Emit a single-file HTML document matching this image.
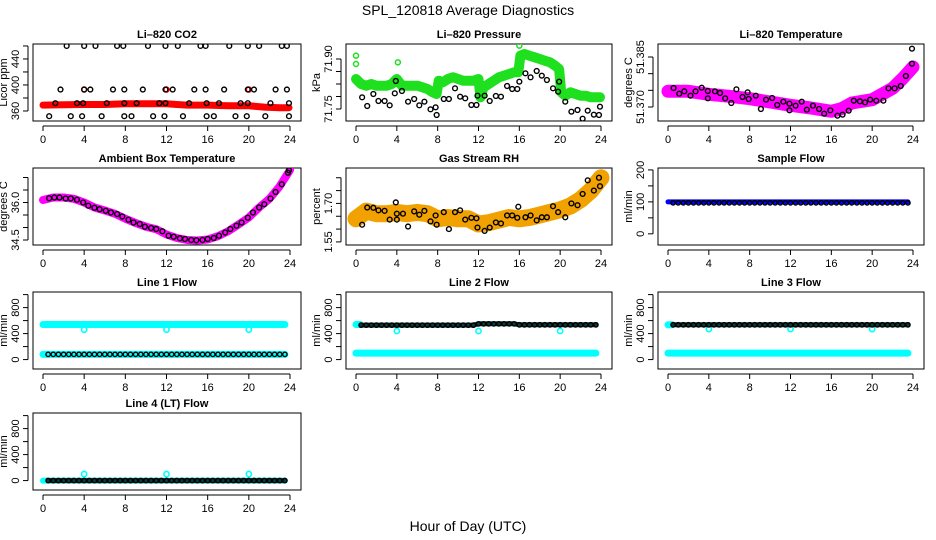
<!DOCTYPE html>
<html><head><meta charset="utf-8"><style>
html,body{margin:0;padding:0;background:#fff;}
svg{display:block;font-family:"Liberation Sans",sans-serif;}
</style></head><body>
<svg id="c" width="936" height="540" viewBox="0 0 936 540">
<text x="468" y="15" text-anchor="middle" font-size="14">SPL_120818  Average Diagnostics</text>
<text x="468" y="531" text-anchor="middle" font-size="14">Hour of Day (UTC)</text>
</svg>
<script>
// ---- CO2 ----
const co2RedT=[0,2,4,6,8,10,12,13,14,16,18,20,21.5,23,23.9];
const co2RedV=[369,369.5,370,370,371,371,371,370,369,369,368,368,366,365,365];
const co2BlkT=[2.3,4.0,5.1,7.2,7.8,10.2,11.9,13.1,15.3,15.8,18.1,19.9,21.0,23.2,23.7,
 1.7,4.0,4.6,6.8,7.9,9.7,11.9,12.6,14.7,15.8,17.6,19.9,20.5,22.6,23.7,
 1.2,3.3,3.9,6.2,7.9,9.1,11.3,11.9,14.2,15.9,17.1,19.2,19.9,22.1,23.9,
 0.6,2.7,3.8,5.7,7.9,8.6,10.7,11.8,13.6,15.9,16.6,18.7,19.8,21.6,23.9];
const co2BlkV=[460,460,460,460,460,460,460,460,460,460,460,460,460,460,460,
 393,393,393,393,393,393,393,393,393,393,393,393,393,393,393,
 372,372,372,372,372,372,372,372,372,372,372,372,372,372,372,
 352,352,352,352,352,352,352,352,352,352,352,352,352,352,352];
const co2RedPtT=[4.0,12.0,20.0];
const co2RedPtV=[393,393,393];
// ---- Pressure ----
const prGreenT=[0,0.5,1,1.5,2,2.5,3,3.5,4,4.5,5,5.5,6,6.5,7,7.5,7.9,8.1,8.5,9,9.5,10,10.5,11,11.5,12,12.2,12.5,13,13.5,14,14.5,15,15.5,15.9,16.1,16.5,17,17.5,18,18.5,19,19.5,19.9,20.1,20.5,21,21.5,22,22.5,23,23.5,23.9];
const prGreenV=[71.84,71.825,71.82,71.825,71.82,71.82,71.82,71.825,71.84,71.82,71.82,71.82,71.82,71.815,71.81,71.80,71.795,71.835,71.83,71.84,71.845,71.84,71.835,71.835,71.835,71.84,71.785,71.815,71.825,71.835,71.845,71.85,71.855,71.86,71.86,71.91,71.915,71.91,71.905,71.90,71.895,71.89,71.88,71.87,71.80,71.79,71.80,71.795,71.79,71.79,71.785,71.785,71.785];
const prBlkT=[0.6,1.1,1.7,2.2,2.8,3.3,3.8,3.9,4.5,5.1,5.7,6.2,6.7,7.3,7.8,7.9,8.6,9.1,9.7,10.2,10.7,11.3,11.8,11.9,12.6,13.1,13.7,14.2,14.8,15.3,15.8,16.0,16.6,17.1,17.7,18.2,18.7,19.3,19.8,19.9,20.5,21.1,21.7,22.2,22.7,23.3,23.8,23.9];
const prBlkV=[71.785,71.759,71.795,71.774,71.774,71.761,71.797,71.834,71.804,71.772,71.78,71.761,71.772,71.749,71.755,71.732,71.78,71.78,71.812,71.787,71.782,71.762,71.762,71.79,71.79,71.774,71.789,71.787,71.819,71.81,71.81,71.832,71.857,71.845,71.864,71.85,71.837,71.812,71.802,71.832,71.772,71.742,71.747,71.721,71.745,71.733,71.732,71.757];
// ---- Li-820 Temperature ----
const ltMagT=[0,2,4,6,8,10,12,14,16,17,18,20,22,23,24];
const ltMagV=[51.3747,51.3747,51.3738,51.3732,51.3725,51.3715,51.3705,51.3697,51.3687,51.3695,51.3712,51.3722,51.3756,51.3786,51.382];
const ltBlkT=[0.55,1.1,1.6,2.2,2.7,3.3,3.9,3.9,4.6,5.1,5.6,6.2,6.7,7.3,7.8,7.9,8.6,9.1,9.6,10.2,10.7,11.3,11.9,11.9,12.5,13.1,13.6,14.2,14.8,15.3,15.9,16.6,17.1,17.7,18.2,18.8,19.3,19.8,20.4,21.1,21.6,22.2,22.8,23.3,23.9,23.9];
const ltBlkV=[51.3757,51.374,51.3747,51.3734,51.3747,51.3758,51.3748,51.3726,51.3747,51.3742,51.3726,51.3712,51.3753,51.373,51.3744,51.3724,51.3734,51.3694,51.3722,51.3727,51.3706,51.3716,51.371,51.369,51.3704,51.3716,51.3692,51.3704,51.3694,51.368,51.369,51.3674,51.3677,51.3689,51.3719,51.3717,51.3714,51.3722,51.3719,51.3719,51.3756,51.3756,51.3763,51.3793,51.383,51.3875];
// ---- Ambient Box Temperature ----
const abMagT=[0,1,2,3,4,5,6,7,8,9,10,11,12,13,14,15,16,17,18,19,20,21,22,23,24];
const abMagV=[36.1,36.2,36.2,36.15,36.0,35.8,35.68,35.55,35.35,35.18,35.03,34.93,34.72,34.58,34.5,34.48,34.52,34.65,34.85,35.12,35.4,35.8,36.15,36.65,37.3];
const abBlkT=[0.6,1.1,1.6,2.2,2.7,3.3,3.9,4.4,5.0,5.5,6.1,6.6,7.2,7.7,8.3,8.8,9.4,9.9,10.5,11.0,11.6,12.2,12.7,13.3,13.8,14.4,14.9,15.5,16.0,16.6,17.1,17.7,18.2,18.8,19.3,19.9,20.4,21.0,21.5,22.1,22.6,23.2,23.8,23.9];
const abBlkV=[36.17,36.2,36.2,36.16,36.16,36.11,36.0,35.87,35.79,35.73,35.67,35.6,35.54,35.44,35.31,35.2,35.14,35.03,34.98,34.94,34.85,34.67,34.63,34.57,34.54,34.5,34.49,34.5,34.54,34.58,34.67,34.8,34.94,35.07,35.2,35.39,35.6,35.8,35.93,36.16,36.42,36.73,37.19,37.29];
// ---- Gas Stream RH ----
const rhOrT=[0,1,2,3,4,5,6,7,8,9,10,11,12,13,14,15,16,17,18,19,20,21,22,23,24];
const rhOrV=[1.64,1.67,1.66,1.66,1.665,1.66,1.665,1.66,1.64,1.645,1.64,1.64,1.62,1.625,1.635,1.645,1.64,1.645,1.655,1.665,1.675,1.69,1.715,1.75,1.80];
const rhBlkT=[0.6,1.1,1.7,2.2,2.8,3.3,3.9,4.0,4.0,4.6,5.1,5.7,6.2,6.7,7.3,7.8,7.9,8.6,9.1,9.7,10.2,10.7,11.3,11.8,11.9,12.6,13.1,13.7,14.2,14.8,15.3,15.8,15.9,16.6,17.1,17.7,18.2,18.7,19.3,19.8,20.5,21.1,21.7,22.2,22.7,23.3,23.8,23.9];
const rhBlkV=[1.617,1.684,1.683,1.673,1.671,1.637,1.704,1.66,1.637,1.66,1.61,1.669,1.656,1.671,1.63,1.653,1.617,1.666,1.6,1.666,1.673,1.637,1.644,1.642,1.606,1.593,1.606,1.626,1.622,1.653,1.653,1.644,1.687,1.646,1.653,1.634,1.646,1.646,1.689,1.666,1.646,1.70,1.693,1.737,1.79,1.75,1.80,1.767];
// ---- Flows (levels per 4-hour block, 0-4,4-8,...,20-24) ----
const sfBlueLv=[100,100,100,100,100,100];
const sfBlackLv=[97,97,97,97,97,97];
const l1CyanHi=[540,540,540,540,540,540];
const l1CyanLo=[80,80,80,80,80,80];
const l1Black=[80,80,80,80,80,80];
const l2CyanLo=[100,100,100,100,100,100];
const l2Black=[530,530,530,550,535,535];
const l3CyanLo=[100,100,100,100,100,100];
const l3Black=[535,535,535,535,535,535];
const l4CyanLo=[0,0,0,0,0,0];
const l4Black=[0,0,0,0,0,0];
const dipT=[4,12,20];
const l1Dip=[460,460,460];
const l2Dip=[440,440,440];
const l3Dip=[470,470,470];
const l4Dip=[100,100,100];

const NS='http://www.w3.org/2000/svg';
const svg=document.getElementById('c');
function el(tag,attrs,parent){const e=document.createElementNS(NS,tag);for(const k in attrs)e.setAttribute(k,attrs[k]);(parent||svg).appendChild(e);return e;}
const cols=[[33,301],[346,612],[658,924]];
const rows=[44,168,292,413];
const H=77;
const xTicks=[0,4,8,12,16,20,24];

function panel(name,title,col,row,dom,ticks,labels,ytitle,fmt){
  const g=el('g',{});
  
  
  const L=cols[col][0],R=cols[col][1],T=rows[row],B=T+H;
  const x0=L+10,x1=R-11;
  const sx=h=>x0+(x1-x0)*h/24;
  const sy=v=>B-(v-dom[0])/(dom[1]-dom[0])*H;
  const box=el('rect',{x:L,y:T,width:R-L,height:H,fill:'none',stroke:'#000','stroke-width':1},g);
  
  
  const t=el('text',{x:(L+R)/2,y:T-6,'text-anchor':'middle','font-size':11,'font-weight':'bold'},g);
  t.textContent=title;
  
  
  // x axis
  const xa=el('g',{},g);
  
  
  el('line',{x1:sx(0),x2:sx(24),y1:B+5,y2:B+5,stroke:'#000'},xa);
  xTicks.forEach(h=>{
    el('line',{x1:sx(h),x2:sx(h),y1:B+5,y2:B+10,stroke:'#000'},xa);
    const tx=el('text',{x:sx(h),y:B+22,'text-anchor':'middle','font-size':11},xa);
    tx.textContent=h;
    
    
  });
  // y axis
  const ya=el('g',{},g);
  
  
  el('line',{x1:L-5,x2:L-5,y1:sy(ticks[0]),y2:sy(ticks[ticks.length-1]),stroke:'#000'},ya);
  ticks.forEach(v=>el('line',{x1:L-10,x2:L-5,y1:sy(v),y2:sy(v),stroke:'#000'},ya));
  labels.forEach(v=>{
    const ty=el('text',{x:L-14,y:sy(v),'text-anchor':'middle','font-size':11,transform:`rotate(-90 ${L-14} ${sy(v)})`},ya);
    ty.textContent=fmt?fmt(v):v;
    
    
  });
  const yt=el('text',{x:L-26,y:(T+B)/2,'text-anchor':'middle','font-size':11,transform:`rotate(-90 ${L-26} ${(T+B)/2})`},g);
  yt.textContent=ytitle;
  
  
  const clipId='cl'+name;
  const cp=el('clipPath',{id:clipId},g);el('rect',{x:L,y:T,width:R-L,height:H},cp);
  const d=el('g',{'clip-path':`url(#${clipId})`},g);
  
  
  return {g:d,sx,sy};
}
function band(p,ts,vs,color,w,nm){
  const pts=ts.map((t,i)=>p.sx(t).toFixed(1)+','+p.sy(vs[i]).toFixed(1)).join(' ');
  const l=el('polyline',{points:pts,fill:'none',stroke:color,'stroke-width':w,'stroke-linejoin':'round','stroke-linecap':'round'},p.g);
  
  
}
function pts(p,ts,vs,color,r,sw,nm){
  ts.forEach((t,i)=>{
    const c=el('circle',{cx:p.sx(t),cy:p.sy(vs[i]),r:r,fill:'none',stroke:color,'stroke-width':sw},p.g);
    
    
  });
}
function levelSeries(lv,start,end,step){const T=[],V=[];for(let b=0;b<lv.length;b++){for(let h=Math.max(b*4,start);h<Math.min(b*4+4,end+0.01);h+=step){T.push(h);V.push(lv[b]);}}return [T,V];}

// CO2
let p=panel('co2-panel','Li\u2013820 CO2',0,0,[344.6,463],[360,380,400,420,440,460],[360,400,440],'Licor ppm');
band(p,co2RedT,co2RedV,'#ff0000',7,'co2-raw-band');
pts(p,co2RedPtT,co2RedPtV,'#ff0000',2.5,1.5,'co2-raw-point');
pts(p,co2BlkT,co2BlkV,'#000',2.4,1.4,'co2-avg-point');
// Pressure
p=panel('pressure-panel','Li\u2013820 Pressure',1,0,[71.714,71.945],[71.75,71.7875,71.825,71.8625,71.90],[71.75,71.90],'kPa',v=>v.toFixed(2));
band(p,prGreenT,prGreenV,'#1ee01e',10,'pressure-raw-band');
pts(p,[0,0,4.1,16],[71.91,71.885,71.89,71.94],'#1ee01e',2.5,1.5,'pressure-raw-point');
pts(p,prBlkT,prBlkV,'#000',2.4,1.4,'pressure-avg-point');
// Li temp
p=panel('li-temp-panel','Li\u2013820 Temperature',2,0,[51.3658,51.3889],[51.370,51.375,51.380,51.385],[51.370,51.385],'degrees C',v=>v.toFixed(3));
band(p,ltMagT,ltMagV,'#ff00ff',13,'li-temp-raw-band');
pts(p,ltBlkT,ltBlkV,'#000',2.4,1.4,'li-temp-avg-point');
// Ambient
p=panel('ambient-panel','Ambient Box Temperature',0,1,[34.3,37.38],[34.5,35.0,35.5,36.0,36.5,37.0],[34.5,36.0],'degrees C',v=>v.toFixed(1));
band(p,abMagT,abMagV,'#ff00ff',8,'ambient-raw-band');
pts(p,abBlkT,abBlkV,'#000',2.4,1.4,'ambient-avg-point');
// RH
p=panel('rh-panel','Gas Stream RH',1,1,[1.538,1.838],[1.55,1.60,1.65,1.70,1.75,1.80],[1.55,1.70],'percent',v=>v.toFixed(2));
band(p,rhOrT,rhOrV,'#f2a200',17,'rh-raw-band');
pts(p,rhBlkT,rhBlkV,'#000',2.4,1.4,'rh-avg-point');
// Sample flow
p=panel('sample-flow-panel','Sample Flow',2,1,[-35,206],[0,50,100,150,200],[0,100,200],'ml/min');
let s=levelSeries(sfBlueLv,0,23.8,0.5);band(p,s[0],s[1],'#0000ff',5,'sample-flow-raw');
s=levelSeries(sfBlackLv,0.5,23.9,0.5);pts(p,s[0],s[1],'#000',2.2,1.4,'sample-flow-avg-point');
const fd=[-145,1040],ft=[0,200,400,600,800,1000],fl=[0,400,800];
// Line 1
p=panel('line1-flow-panel','Line 1 Flow',0,2,fd,ft,fl,'ml/min');
s=levelSeries(l1CyanHi,0,23.9,0.5);band(p,s[0],s[1],'#00ffff',7,'line1-raw-high');
s=levelSeries(l1CyanLo,0,23.9,0.5);band(p,s[0],s[1],'#00ffff',7,'line1-raw-low');
pts(p,dipT,l1Dip,'#00ffff',2.6,1.6,'line1-dip');
s=levelSeries(l1Black,0.5,23.9,0.5);pts(p,s[0],s[1],'#000',2.2,1.4,'line1-avg-point');
// Line 2
p=panel('line2-flow-panel','Line 2 Flow',1,2,fd,ft,fl,'ml/min');
s=levelSeries(l2CyanLo,0,23.9,0.5);band(p,s[0],s[1],'#00ffff',7,'line2-raw-low');
band(p,[0,0.4],[540,540],'#00ffff',7,'line2-raw-high');
pts(p,dipT,l2Dip,'#00ffff',2.6,1.6,'line2-dip');
s=levelSeries(l2Black,0.5,23.9,0.5);band(p,s[0],s[1],'#0a3a3a',5,'line2-avg-line');pts(p,s[0],s[1],'#000',2.2,1.4,'line2-avg-point');
// Line 3
p=panel('line3-flow-panel','Line 3 Flow',2,2,fd,ft,fl,'ml/min');
s=levelSeries(l3CyanLo,0,23.9,0.5);band(p,s[0],s[1],'#00ffff',7,'line3-raw-low');
band(p,[0,0.4],[535,535],'#00ffff',7,'line3-raw-high');
pts(p,dipT,l3Dip,'#00ffff',2.6,1.6,'line3-dip');
s=levelSeries(l3Black,0.5,23.9,0.5);band(p,s[0],s[1],'#0a3a3a',5,'line3-avg-line');pts(p,s[0],s[1],'#000',2.2,1.4,'line3-avg-point');
// Line 4
p=panel('line4-flow-panel','Line 4 (LT) Flow',0,3,fd,ft,fl,'ml/min');
s=levelSeries(l4CyanLo,0,23.9,0.5);band(p,s[0],s[1],'#00ffff',6,'line4-raw');
pts(p,dipT,l4Dip,'#00ffff',2.6,1.6,'line4-spike');
s=levelSeries(l4Black,0.5,23.9,0.5);band(p,s[0],s[1],'#0a3a3a',5,'line4-avg-line');pts(p,s[0],s[1],'#000',2.2,1.4,'line4-avg-point');
</script>
</body></html>
